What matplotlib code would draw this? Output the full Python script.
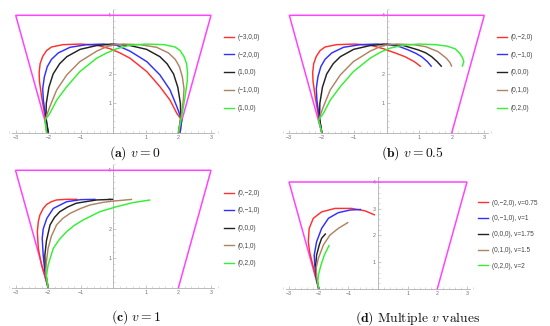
import matplotlib
matplotlib.use("Agg")
import matplotlib.pyplot as plt
from matplotlib.lines import Line2D
from matplotlib.ticker import MultipleLocator, FixedLocator

plt.rcParams['mathtext.fontset'] = 'cm'
plt.rcParams['font.family'] = ['Liberation Sans', 'DejaVu Sans']

colors = ['#ff3030', '#3030ff', '#222222', '#b08463', '#33f033']
magenta = '#ff44ff'

# container walls
wall_x = [-2, -3, 3, 2]
wall_y = [0, 4, 4, 0]

# ---- panel (a), v = 0
labels_a = ['(\u22123,0,0)', '(\u22122,0,0)', '(1,0,0)', '(\u22121,0,0)', '(1,0,0)']
red_a_x = [-2.00, -2.10, -2.20, -2.27, -2.28, -2.25, -2.17, -2.05, -1.90, -1.55, -1.00, -0.50, -0.10, 0.20, 0.51, 1.03, 1.43, 1.74, 1.95, 2.10, 2.05]
red_a_y = [0.00, 0.55, 1.20, 1.75, 2.05, 2.35, 2.60, 2.80, 2.92, 3.00, 3.02, 2.98, 2.86, 2.72, 2.54, 2.08, 1.57, 1.11, 0.66, 0.43, 0.00]
blue_a_x = [-2.00, -2.08, -2.15, -2.17, -2.12, -2.03, -1.90, -1.69, -1.33, -0.82, -0.30, 0.10, 0.51, 1.03, 1.43, 1.74, 1.95, 2.10, 2.05]
blue_a_y = [0.00, 0.55, 1.10, 1.50, 1.90, 2.25, 2.50, 2.72, 2.91, 3.00, 3.02, 2.98, 2.78, 2.42, 1.97, 1.46, 0.89, 0.43, 0.00]
black_a_x = [-2.00, -2.07, -2.06, -1.98, -1.85, -1.65, -1.43, -1.02, -0.51, 0.00, 0.51, 1.02, 1.43, 1.65, 1.85, 1.98, 2.06, 2.07, 2.00]
black_a_y = [0.00, 0.50, 1.00, 1.55, 2.00, 2.35, 2.59, 2.84, 2.97, 3.02, 2.97, 2.84, 2.59, 2.35, 2.00, 1.55, 1.00, 0.50, 0.00]
brown_a_x = [-2.05, -2.10, -1.95, -1.74, -1.43, -1.03, -0.51, -0.10, 0.30, 0.82, 1.33, 1.69, 1.90, 2.03, 2.12, 2.17, 2.15, 2.08, 2.00]
brown_a_y = [0.00, 0.43, 0.89, 1.46, 1.97, 2.42, 2.78, 2.98, 3.02, 3.00, 2.91, 2.72, 2.50, 2.25, 1.90, 1.50, 1.10, 0.55, 0.00]
green_a_x = [-2.05, -2.10, -1.95, -1.74, -1.43, -1.03, -0.51, -0.20, 0.10, 0.50, 1.00, 1.55, 1.90, 2.05, 2.17, 2.25, 2.28, 2.27, 2.20, 2.10, 2.00]
green_a_y = [0.00, 0.43, 0.66, 1.11, 1.57, 2.08, 2.54, 2.72, 2.86, 2.98, 3.02, 3.00, 2.92, 2.80, 2.60, 2.35, 2.05, 1.75, 1.20, 0.55, 0.00]

# ---- panel (b), v = 0.5
labels_b = ['(0,\u22122,0)', '(0,\u22121,0)', '(0,0,0)', '(0,1,0)', '(0,2,0)']
red_b_x = [-2.00, -2.10, -2.20, -2.27, -2.28, -2.25, -2.17, -2.05, -1.90, -1.55, -1.00, -0.50, -0.10, 0.25, 0.56, 0.85, 1.05]
red_b_y = [0.00, 0.55, 1.20, 1.75, 2.05, 2.35, 2.60, 2.80, 2.92, 3.00, 3.02, 2.98, 2.86, 2.72, 2.59, 2.42, 2.25]
blue_b_x = [-2.00, -2.08, -2.15, -2.17, -2.12, -2.03, -1.90, -1.69, -1.33, -0.82, -0.30, 0.10, 0.40, 0.66, 0.90, 1.07, 1.25, 1.38]
blue_b_y = [0.00, 0.55, 1.10, 1.50, 1.90, 2.25, 2.50, 2.72, 2.91, 3.00, 3.02, 2.99, 2.93, 2.82, 2.70, 2.59, 2.42, 2.25]
black_b_x = [-2.00, -2.07, -2.06, -1.98, -1.85, -1.65, -1.43, -1.02, -0.51, 0.00, 0.51, 0.97, 1.20, 1.38, 1.55, 1.69]
black_b_y = [0.00, 0.50, 1.00, 1.55, 2.00, 2.35, 2.59, 2.84, 2.97, 3.02, 2.97, 2.82, 2.72, 2.59, 2.42, 2.25]
brown_b_x = [-2.00, -2.10, -1.95, -1.74, -1.43, -1.03, -0.51, -0.10, 0.30, 0.82, 1.20, 1.58, 1.84, 1.95, 2.00]
brown_b_y = [0.00, 0.43, 0.89, 1.46, 1.97, 2.42, 2.78, 2.98, 3.02, 3.00, 2.93, 2.76, 2.53, 2.38, 2.25]
green_b_x = [-2.00, -2.10, -1.95, -1.74, -1.43, -1.03, -0.51, -0.20, 0.10, 0.50, 1.00, 1.50, 1.85, 2.10, 2.25, 2.33, 2.37, 2.32]
green_b_y = [0.00, 0.43, 0.66, 1.11, 1.57, 2.08, 2.54, 2.74, 2.88, 2.98, 3.02, 3.00, 2.95, 2.86, 2.70, 2.55, 2.42, 2.25]

# ---- panel (c), v = 1
labels_c = ['(0,\u22122,0)', '(0,\u22121,0)', '(0,0,0)', '(0,1,0)', '(0,2,0)']
red_c_x = [-2.00, -2.10, -2.20, -2.30, -2.33, -2.30, -2.25, -2.15, -2.04, -1.90, -1.74, -1.45, -1.09]
red_c_y = [0.00, 0.40, 0.77, 1.34, 1.91, 2.25, 2.48, 2.70, 2.84, 2.93, 2.99, 3.01, 3.01]
blue_c_x = [-2.00, -2.10, -2.15, -2.18, -2.15, -2.04, -1.84, -1.43, -1.00, -0.54]
blue_c_y = [0.00, 0.55, 1.10, 1.68, 2.00, 2.36, 2.70, 2.93, 3.00, 3.01]
black_c_x = [-2.00, -2.08, -2.10, -2.05, -1.94, -1.80, -1.64, -1.40, -1.13, -0.51, 0.00]
black_c_y = [0.00, 0.55, 1.10, 1.60, 2.14, 2.40, 2.59, 2.75, 2.88, 2.99, 3.01]
brown_c_x = [-2.00, -2.08, -2.05, -2.00, -1.90, -1.74, -1.55, -1.33, -1.00, -0.71, -0.30, 0.00, 0.58]
brown_c_y = [0.00, 0.50, 0.90, 1.34, 1.75, 2.14, 2.36, 2.53, 2.70, 2.82, 2.91, 2.95, 3.01]
green_c_x = [-2.00, -2.05, -2.00, -1.84, -1.65, -1.43, -1.20, -0.92, -0.41, 0.10, 0.61, 1.14]
green_c_y = [0.00, 0.40, 0.77, 1.34, 1.65, 1.91, 2.12, 2.31, 2.59, 2.76, 2.90, 2.99]

# ---- panel (d), multiple v
labels_d = ['(0,\u22122,0), v=0.75', '(0,\u22121,0), v=1', '(0,0,0), v=1.75', '(0,1,0), v=1.5', '(0,2,0), v=2']
red_d_x = [-2.00, -2.10, -2.20, -2.30, -2.35, -2.32, -2.18, -1.90, -1.45, -0.89, -0.44, -0.10]
red_d_y = [0.00, 0.45, 0.90, 1.35, 1.76, 2.26, 2.64, 2.88, 3.01, 3.01, 2.92, 2.76]
blue_d_x = [-2.00, -2.08, -2.13, -2.15, -2.07, -1.90, -1.67, -1.34, -0.94, -0.57]
blue_d_y = [0.00, 0.45, 0.85, 1.26, 1.76, 2.26, 2.64, 2.85, 2.95, 2.97]
black_d_x = [-2.00, -2.08, -2.10, -2.07, -1.98, -1.90, -1.76]
black_d_y = [0.00, 0.45, 0.89, 1.26, 1.64, 1.89, 2.07]
brown_d_x = [-2.00, -2.07, -2.08, -2.01, -1.84, -1.62, -1.34, -1.00]
brown_d_y = [0.00, 0.45, 0.80, 1.14, 1.64, 2.01, 2.26, 2.49]
green_d_x = [-2.00, -2.03, -2.01, -1.92, -1.81, -1.64]
green_d_y = [0.00, 0.25, 0.51, 0.89, 1.26, 1.64]

W, H = 550, 326
XL, YL = (-3.2, 3.2), (-0.1, 4.3)


def make_axes(fig, xm3, xp3, y0, y4):
    # pixel positions of x=-3, x=3, y=0, y=4 -> axes rectangle
    sx = (xp3 - xm3) / 6.0
    sy = (y0 - y4) / 4.0
    left = xm3 + (XL[0] + 3) * sx
    right = xm3 + (XL[1] + 3) * sx
    bottom = y0 - YL[0] * sy
    top = y0 - YL[1] * sy
    ax = fig.add_axes([left / W, 1 - bottom / H, (right - left) / W, (bottom - top) / H])
    ax.set_xlim(*XL)
    ax.set_ylim(*YL)
    ax.patch.set_alpha(0)
    for s in ['top', 'right']:
        ax.spines[s].set_visible(False)
    ax.spines['left'].set_position(('data', 0))
    ax.spines['bottom'].set_position(('data', 0))
    ax.spines['left'].set_bounds(0, 4.18)
    ax.spines['bottom'].set_bounds(-3.1, 3.1)
    for s in ['left', 'bottom']:
        ax.spines[s].set_color('#b0b0b0')
        ax.spines[s].set_linewidth(0.6)
    ax.xaxis.set_major_locator(FixedLocator([-3, -2, -1, 1, 2, 3]))
    ax.yaxis.set_major_locator(FixedLocator([1, 2, 3, 4]))
    ax.xaxis.set_minor_locator(MultipleLocator(0.2))
    ax.yaxis.set_minor_locator(MultipleLocator(0.2))
    ax.tick_params(which='major', direction='in', length=2.2, width=0.5, color='#b0b0b0',
                   labelsize=3.8, labelcolor='#707070', pad=1.5)
    ax.tick_params(which='minor', direction='in', length=1.2, width=0.4, color='#c0c0c0')
    ax.set_xticklabels(['\u22123', '\u22122', '\u22121', '1', '2', '3'])
    return ax


def draw(ax, curves, labels, leg_x, leg_y, spacing):
    ax.plot(wall_x, wall_y, color=magenta, lw=1.1, zorder=3, solid_joinstyle='miter')
    handles = []
    for (cx, cy), c in zip(curves, colors):
        ax.plot(cx, cy, color=c, lw=1.05, zorder=4, solid_capstyle='butt')
        handles.append(Line2D([], [], color=c, lw=1.0))
    fs = 4.7
    fpx = fs * 100 / 72
    ax.legend(handles, labels, loc='upper left', frameon=False, fontsize=fs,
              bbox_to_anchor=(leg_x / W, 1 - (leg_y - 4.0) / H), bbox_transform=ax.figure.transFigure,
              borderpad=0, borderaxespad=0, handlelength=10 / fpx, handletextpad=4 / fpx,
              labelspacing=(spacing - 7.8) / fpx, labelcolor='#444444')


fig = plt.figure(figsize=(5.5, 3.26), dpi=100)

ax_a = make_axes(fig, 15.7, 211.0, 132.7, 15.3)
draw(ax_a, [(red_a_x, red_a_y), (blue_a_x, blue_a_y), (black_a_x, black_a_y),
            (brown_a_x, brown_a_y), (green_a_x, green_a_y)], labels_a, 224, 38, 18.5)

ax_b = make_axes(fig, 289.3, 484.3, 132.7, 15.3)
draw(ax_b, [(red_b_x, red_b_y), (blue_b_x, blue_b_y), (black_b_x, black_b_y),
            (brown_b_x, brown_b_y), (green_b_x, green_b_y)], labels_b, 497, 38, 18.5)

ax_c = make_axes(fig, 15.5, 211.0, 287.7, 170.3)
draw(ax_c, [(red_c_x, red_c_y), (blue_c_x, blue_c_y), (black_c_x, black_c_y),
            (brown_c_x, brown_c_y), (green_c_x, green_c_y)], labels_c, 224, 194, 18.3)

ax_d = make_axes(fig, 289.0, 467.0, 288.7, 182.0)
draw(ax_d, [(red_d_x, red_d_y), (blue_d_x, blue_d_y), (black_d_x, black_d_y),
            (brown_d_x, brown_d_y), (green_d_x, green_d_y)], labels_d, 478, 203.7, 16.5)

cap = dict(ha='center', va='center', fontsize=9.8, color='#111111')
fig.text(135 / W, 1 - 153 / H, r'$\mathbf{(a)}\ v = 0$', **cap)
fig.text(412 / W, 1 - 153 / H, r'$\mathbf{(b)}\ v = 0.5$', **cap)
fig.text(136 / W, 1 - 317 / H, r'$\mathbf{(c)}\ v = 1$', **cap)
fig.text(418 / W, 1 - 318 / H, r'$\mathbf{(d)}\ \mathrm{Multiple}\ v\ \mathrm{values}$', **cap)

fig.savefig('out.png', dpi=100)
